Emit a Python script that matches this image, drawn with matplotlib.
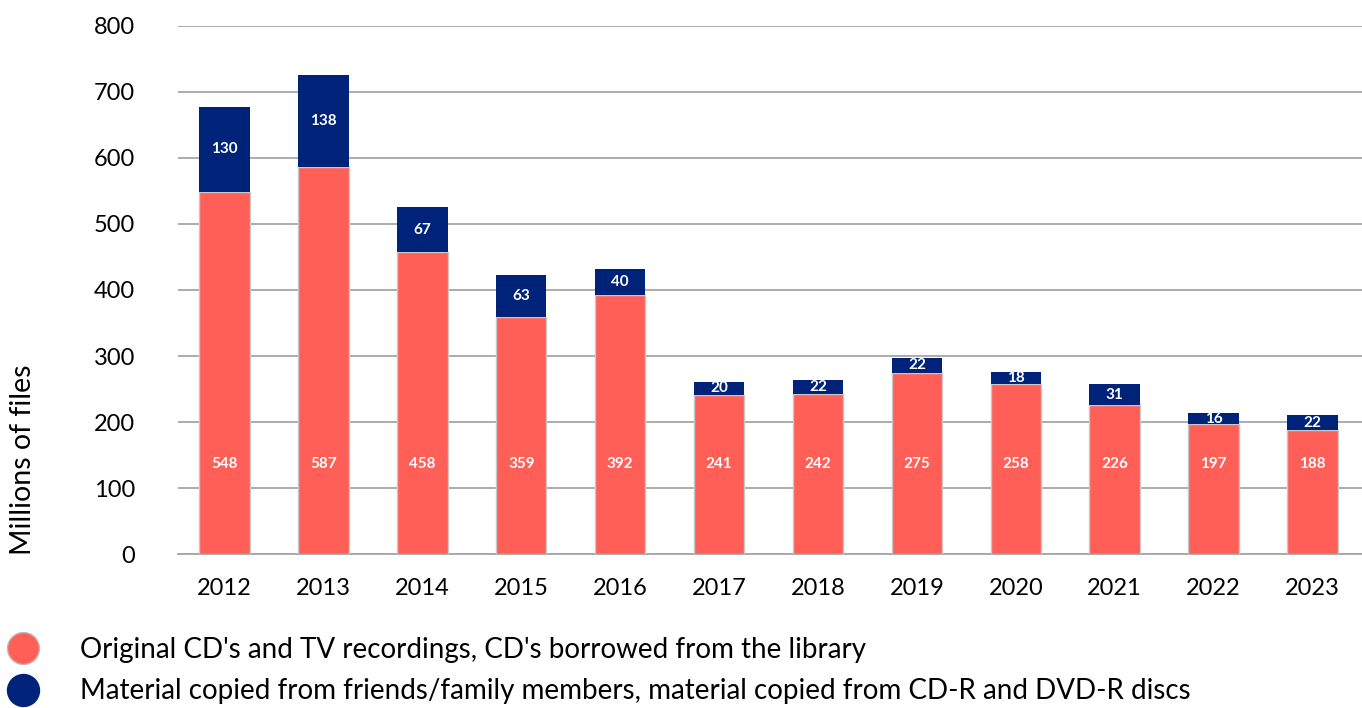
import numpy as np
import matplotlib.pyplot as plt
from matplotlib.lines import Line2D

plt.rcParams['font.family'] = ['Lato', 'DejaVu Sans']

# data
years = ['2012', '2013', '2014', '2015', '2016', '2017',
         '2018', '2019', '2020', '2021', '2022', '2023']
original = [548, 587, 458, 359, 392, 241, 242, 275, 258, 226, 197, 188]
copied = [130, 138, 67, 63, 40, 20, 22, 22, 18, 31, 16, 22]
labels = ["Original CD's and TV recordings, CD's borrowed from the library",
          "Material copied from friends/family members, material copied from CD-R and DVD-R discs"]

red = '#FF5F56'
navy = '#00237A'
grid = '#A6A6A6'

fig = plt.figure(figsize=(13.62, 7.08), dpi=100)
ax = fig.add_axes([0.1307, 0.2175, 0.8693, 0.7458])

x = np.arange(len(years))
w = 0.51
ax.bar(x, original, w, color=red, edgecolor='#C8C8C8', linewidth=1, zorder=3)
ax.bar(x, copied, w, bottom=original, color=navy, linewidth=0, zorder=3)

for i in range(len(years)):
    ax.text(x[i], 137, str(original[i]), ha='center', va='center',
            color='white', fontsize=11, fontweight='bold', zorder=4)
    ax.text(x[i], original[i] + copied[i] / 2, str(copied[i]), ha='center',
            va='center', color='white', fontsize=11, fontweight='bold', zorder=4)

ax.set_ylim(0, 800)
ax.set_xlim(-0.47, 11.5)
ax.set_yticks(range(0, 801, 100))
ax.set_xticks(x)
ax.set_xticklabels(years)
ax.yaxis.grid(True, color=grid, linewidth=1.3, zorder=0)
ax.set_axisbelow(True)
for s in ['top', 'right', 'left']:
    ax.spines[s].set_visible(False)
ax.spines['bottom'].set_color(grid)
ax.spines['bottom'].set_linewidth(1.3)
ax.tick_params(axis='both', length=0, labelsize=17, colors='black')
ax.tick_params(axis='y', pad=31)
ax.tick_params(axis='x', pad=17)

fig.text(0.017, 0.35, 'Millions of files', rotation=90, ha='center',
         va='center', fontsize=20.5)

handles = [Line2D([], [], marker='o', linestyle='none', markersize=23,
                  markerfacecolor=red, markeredgecolor='#BBBBBB', markeredgewidth=1),
           Line2D([], [], marker='o', linestyle='none', markersize=23,
                  markerfacecolor=navy, markeredgecolor=navy)]
fig.legend(handles, labels, loc='upper left', bbox_to_anchor=(0.005, 0.1),
           frameon=False, fontsize=20, handlelength=1.2, handletextpad=1.45,
           labelspacing=0.55, borderaxespad=0, borderpad=0)

fig.savefig('out.png', dpi=100)
